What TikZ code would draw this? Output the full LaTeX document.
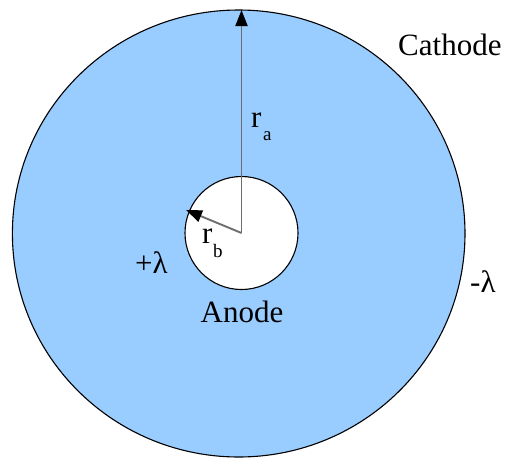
\documentclass[tikz,border=0pt]{standalone}
\usepackage{fontspec}
\setmainfont{Liberation Serif}
\usetikzlibrary{arrows.meta}
\definecolor{fillblue}{HTML}{99CCFF}
\definecolor{arrgray}{HTML}{6E6E6E}
\tikzset{
  lbl/.style={inner sep=0pt, font=\fontsize{31}{31}\selectfont},
  radius arrow/.style={draw=arrgray, line width=1.9pt, -{Triangle[length=16pt,width=12pt,fill=black,color=black]}},
  subs/.style={inner sep=0pt, font=\fontsize{19}{19}\selectfont}
}
\begin{document}
\begin{tikzpicture}[x=1pt,y=-1pt]
\useasboundingbox (0,0) rectangle (506,461);
\fill[white] (0,0) rectangle (506,461);
\draw[fill=fillblue, draw=black, line width=1.1pt] (238.7,233.5) ellipse [x radius=226.3, y radius=223.5];
\draw[fill=white, draw=black, line width=1.1pt] (241.5,233) circle [radius=56.5];
\coordinate (c) at (241.5,233);
\coordinate (ta) at (241.5,10);
\coordinate (tb) at (186,210);
\draw[radius arrow] (c) -- (ta);
\draw[radius arrow] (c) -- (tb);
\node[lbl, anchor=base west] (cath) at (398,55) {Cathode};
\node[lbl, anchor=base west] (ra) at (251,127) {r};
\node[subs, anchor=base west] (raa) at (263,140) {a};
\node[lbl, anchor=base west] (rb) at (202,243) {r};
\node[subs, anchor=base west] (rbb) at (213,257) {b};
\node[lbl, anchor=base west] (pl) at (135,273) {+λ};
\node[lbl, anchor=base west] (ml) at (470,292) {-λ};
\node[lbl, anchor=base] (an) at (242,322) {Anode};
\end{tikzpicture}
\end{document}
